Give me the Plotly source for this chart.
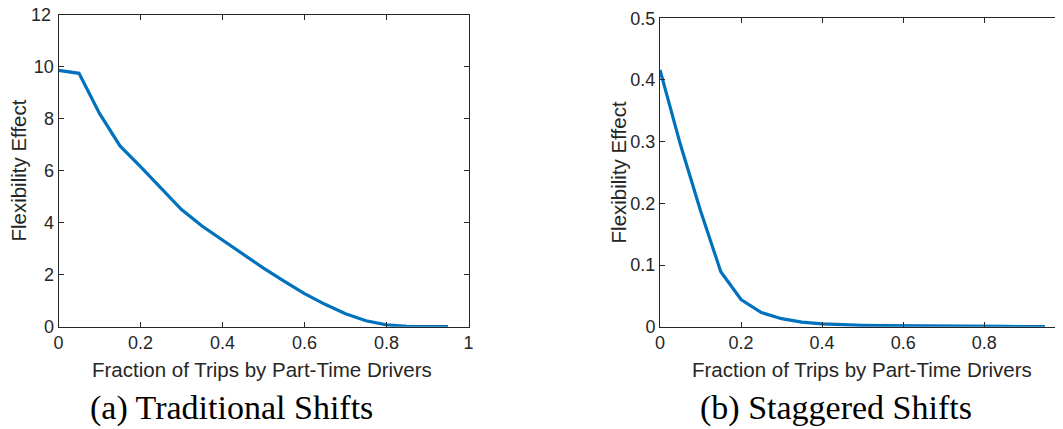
import plotly.graph_objects as go

# ---- data ----
frac = [0.0, 0.05, 0.10, 0.15, 0.20, 0.25, 0.30, 0.35, 0.40, 0.45,
        0.50, 0.55, 0.60, 0.65, 0.70, 0.75, 0.80, 0.85, 0.90, 0.95]
traditional = [9.85, 9.74, 8.2, 6.95, 6.15, 5.32, 4.5, 3.87, 3.33, 2.8,
               2.25, 1.75, 1.27, 0.86, 0.5, 0.23, 0.07, 0.015, 0.005, 0.005]
staggered = [0.416, 0.296, 0.188, 0.089, 0.044, 0.023, 0.013, 0.0075, 0.0045, 0.003,
             0.0022, 0.0017, 0.0013, 0.001, 0.0008, 0.0006, 0.0005, 0.0004, 0.0003, 0.0002]

x_ticks = [0, 0.2, 0.4, 0.6, 0.8, 1]
y_ticks_a = [0, 2, 4, 6, 8, 10, 12]
y_ticks_b = [0, 0.1, 0.2, 0.3, 0.4, 0.5]
x_title = "Fraction of Trips by Part-Time Drivers"
y_title = "Flexibility Effect"
captions = ["(a) Traditional Shifts", "(b) Staggered Shifts"]

PAGE_W, PAGE_H = 1063, 429
OFF = 8  # browser body margin
W, H = PAGE_W - OFF, PAGE_H - OFF
LINE = "#0072BD"
AX = "#262626"
TICKFONT = dict(family="Liberation Sans, Arial, sans-serif", size=18, color=AX)

def px(x):
    return (x - OFF) / W

def py(y):
    return 1 - (y - OFF) / H

# plot area pixel boxes (page coordinates)
a_l, a_r, a_t, a_b = 58.5, 468.5, 14.5, 326.7
b_l, b_t, b_b = 660.0, 18.2, 326.7
b_unit = 405.3  # pixels per x unit in panel b
b_r = PAGE_W
b_xmax = (b_r - b_l) / b_unit

fig = go.Figure()
fig.add_trace(go.Scatter(x=frac, y=traditional, mode="lines",
                         line=dict(color=LINE, width=3.2), xaxis="x", yaxis="y",
                         showlegend=False))
fig.add_trace(go.Scatter(x=frac, y=staggered, mode="lines",
                         line=dict(color=LINE, width=3.2), xaxis="x2", yaxis="y2",
                         showlegend=False))

axcommon = dict(showline=True, linecolor=AX, linewidth=1, mirror="ticks",
                ticks="inside", ticklen=5, tickwidth=1, tickcolor=AX,
                showgrid=False, zeroline=False, tickfont=TICKFONT,
                automargin=False)

# top "12" label is drawn as an annotation (plotly hides labels overflowing the page)
ytext_a = [str(v) for v in y_ticks_a[:-1]] + [""]

fig.update_layout(
    width=W, height=H, autosize=False,
    margin=dict(l=0, r=0, t=0, b=0, pad=0),
    paper_bgcolor="white", plot_bgcolor="white",
    xaxis=dict(domain=[px(a_l), px(a_r)], range=[0, 1], tickvals=x_ticks,
               ticktext=[str(v) for v in x_ticks], anchor="y", **axcommon),
    yaxis=dict(domain=[py(a_b), py(a_t)], range=[0, 12], tickvals=y_ticks_a,
               ticktext=ytext_a, anchor="x", **axcommon),
    xaxis2=dict(domain=[px(b_l), 1.0], range=[0, b_xmax], tickvals=x_ticks,
                ticktext=[str(v) for v in x_ticks], anchor="y2", **axcommon),
    yaxis2=dict(domain=[py(b_b), py(b_t)], range=[0, 0.5], tickvals=y_ticks_b,
                anchor="x2", **axcommon),
)

ann = []
# axis titles
titlefont = dict(family="Liberation Sans, Arial, sans-serif", size=20.5, color=AX)
ann.append(dict(text=x_title, x=px(262), y=py(369), xref="paper", yref="paper",
                showarrow=False, font=titlefont, xanchor="center", yanchor="middle"))
ann.append(dict(text=x_title, x=px(861.5), y=py(369), xref="paper", yref="paper",
                showarrow=False, font=titlefont, xanchor="center", yanchor="middle"))
ann.append(dict(text=y_title, x=px(19), y=py((a_t + a_b) / 2), xref="paper", yref="paper",
                showarrow=False, font=titlefont, textangle=-90, xanchor="center", yanchor="middle"))
ann.append(dict(text=y_title, x=px(618), y=py((b_t + b_b) / 2), xref="paper", yref="paper",
                showarrow=False, font=titlefont, textangle=-90, xanchor="center", yanchor="middle"))
# "12" top tick label of panel a
ann.append(dict(text=str(y_ticks_a[-1]), x=px(a_l - 6), y=py(a_t + 1), xref="paper", yref="paper",
                showarrow=False, font=TICKFONT, xanchor="right", yanchor="middle"))
# partially visible "1" tick label of panel b
ann.append(dict(text="1", x=px(b_l + b_unit), y=py(a_b + 5), xref="paper", yref="paper",
                showarrow=False, font=TICKFONT, xanchor="center", yanchor="top"))
# captions
capfont = dict(family="Liberation Serif, Times New Roman, serif", size=34, color="black")
ann.append(dict(text=captions[0], x=px(231.5), y=py(408), xref="paper", yref="paper",
                showarrow=False, font=capfont, xanchor="center", yanchor="middle"))
ann.append(dict(text=captions[1], x=px(836), y=py(408), xref="paper", yref="paper",
                showarrow=False, font=capfont, xanchor="center", yanchor="middle"))
fig.update_layout(annotations=ann)

fig.write_html("out.html")
